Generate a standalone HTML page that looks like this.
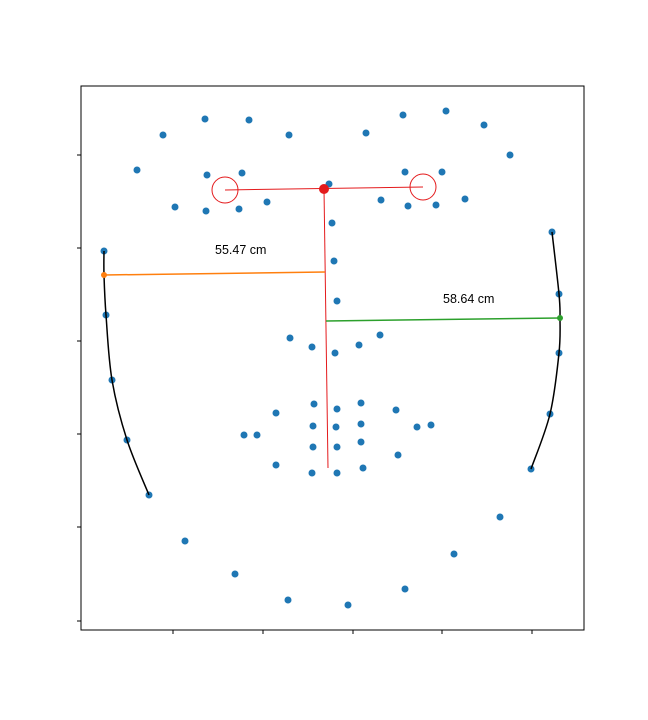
<!DOCTYPE html>
<html><head><meta charset="utf-8">
<style>
html,body{margin:0;padding:0;background:#fff;}
svg{display:block;font-family:"Liberation Sans","DejaVu Sans",sans-serif;}
</style></head>
<body>
<svg id="chart" width="648" height="720">
<rect x="81" y="86" width="503" height="544" fill="#fff" stroke="#000" stroke-width="1"/>
<g id="ticks"></g>
<g id="marks"></g>
</svg>
<script>
// data domain: x 0..503, y 0..544 (y downwards)
const landmarkX = [82,124,168,208,285,322,365,403,429,56,126,161,94,125,158,186,248,251,300,324,361,327,355,384,23,25,31,46,68,104,154,207,267,324,373,419,450,469,478,478,471,253,256,209,231,254,278,299,195,233,256,280,315,163,176,232,255,280,336,350,195,232,256,280,317,231,256,282];
const landmarkY = [49,33,34,49,47,29,25,39,69,84,89,87,121,125,123,116,98,137,114,86,86,120,119,113,165,229,294,354,409,455,488,514,519,503,468,431,383,328,267,208,146,175,215,252,261,267,259,249,327,318,323,317,324,349,349,340,341,338,341,339,379,361,361,356,369,387,387,382];
const xTicks = [92,182,272,361,451];
const yTicks = [69,162,255,348,441,535];
const leftCurveX = [23,23,25,31,46,68];
const leftCurveY = [165,189,229,294,354,409];
const rightCurveX = [471,478,479,478,469,450];
const rightCurveY = [146,208,232,267,328,383];
const eyeX = [144,342];
const eyeY = [104,101];
const centerPt = [243,103];
const chinPt = [247,382];
const leftSeg = [23,189,244,186];
const rightSeg = [245,235,479,232];
const labels = ["55.47 cm","58.64 cm"];
const labelX = [134,362];
const labelY = [168,217];

const X0=81, Y0=86;
const sx = v => X0 + v;
const sy = v => Y0 + v;
const NS="http://www.w3.org/2000/svg";
const ticksG=document.getElementById('ticks');
const marksG=document.getElementById('marks');
function mk(tag,attrs,parent){const e=document.createElementNS(NS,tag);for(const k in attrs)e.setAttribute(k,attrs[k]);parent.appendChild(e);return e;}

xTicks.forEach(t=>{
  const l=mk('line',{x1:sx(t),x2:sx(t),y1:630,y2:634,stroke:'#000'},ticksG);
  
  
});
yTicks.forEach(t=>{
  const l=mk('line',{x1:77,x2:81,y1:sy(t),y2:sy(t),stroke:'#000'},ticksG);
  
  
});

landmarkX.forEach((x,i)=>{
  const c=mk('circle',{cx:sx(x),cy:sy(landmarkY[i]),r:3.5,fill:'#1f77b4'},marksG);
  
  
});

function curve(xs,ys,name){
  let d='M'+sx(xs[0])+','+sy(ys[0]);
  for(let i=0;i<xs.length-1;i++){
    const p0=[xs[Math.max(i-1,0)],ys[Math.max(i-1,0)]],p1=[xs[i],ys[i]],p2=[xs[i+1],ys[i+1]],p3=[xs[Math.min(i+2,xs.length-1)],ys[Math.min(i+2,xs.length-1)]];
    const c1=[p1[0]+(p2[0]-p0[0])/6,p1[1]+(p2[1]-p0[1])/6],c2=[p2[0]-(p3[0]-p1[0])/6,p2[1]-(p3[1]-p1[1])/6];
    d+=` C${sx(c1[0])},${sy(c1[1])} ${sx(c2[0])},${sy(c2[1])} ${sx(p2[0])},${sy(p2[1])}`;
  }
  const p=mk('path',{d:d,fill:'none',stroke:'#000','stroke-width':1.5},marksG);
  
  
}
curve(leftCurveX,leftCurveY,'left-face-contour');
curve(rightCurveX,rightCurveY,'right-face-contour');

let l=mk('line',{x1:sx(eyeX[0]),y1:sy(eyeY[0]),x2:sx(eyeX[1]),y2:sy(eyeY[1]),stroke:'#e41a1c','stroke-width':1},marksG);


l=mk('line',{x1:sx(centerPt[0]),y1:sy(centerPt[1]),x2:sx(chinPt[0]),y2:sy(chinPt[1]),stroke:'#e41a1c','stroke-width':1},marksG);


eyeX.forEach((x,i)=>{
  const c=mk('circle',{cx:sx(x),cy:sy(eyeY[i]),r:13,fill:'none',stroke:'#e41a1c','stroke-width':1},marksG);
  
  
});
let cc=mk('circle',{cx:sx(centerPt[0]),cy:sy(centerPt[1]),r:5,fill:'#e41a1c'},marksG);



l=mk('line',{x1:sx(leftSeg[0]),y1:sy(leftSeg[1]),x2:sx(leftSeg[2]),y2:sy(leftSeg[3]),stroke:'#ff7f0e','stroke-width':1.5},marksG);


cc=mk('circle',{cx:sx(leftSeg[0]),cy:sy(leftSeg[1]),r:3,fill:'#ff7f0e'},marksG);


l=mk('line',{x1:sx(rightSeg[0]),y1:sy(rightSeg[1]),x2:sx(rightSeg[2]),y2:sy(rightSeg[3]),stroke:'#2ca02c','stroke-width':1.5},marksG);


cc=mk('circle',{cx:sx(rightSeg[2]),cy:sy(rightSeg[3]),r:3,fill:'#2ca02c'},marksG);



labels.forEach((t,i)=>{
  const e=mk('text',{x:sx(labelX[i]),y:sy(labelY[i]),'font-size':12.5,fill:'#000'},marksG);
  e.textContent=t;
  
  
});
</script>
</body></html>
